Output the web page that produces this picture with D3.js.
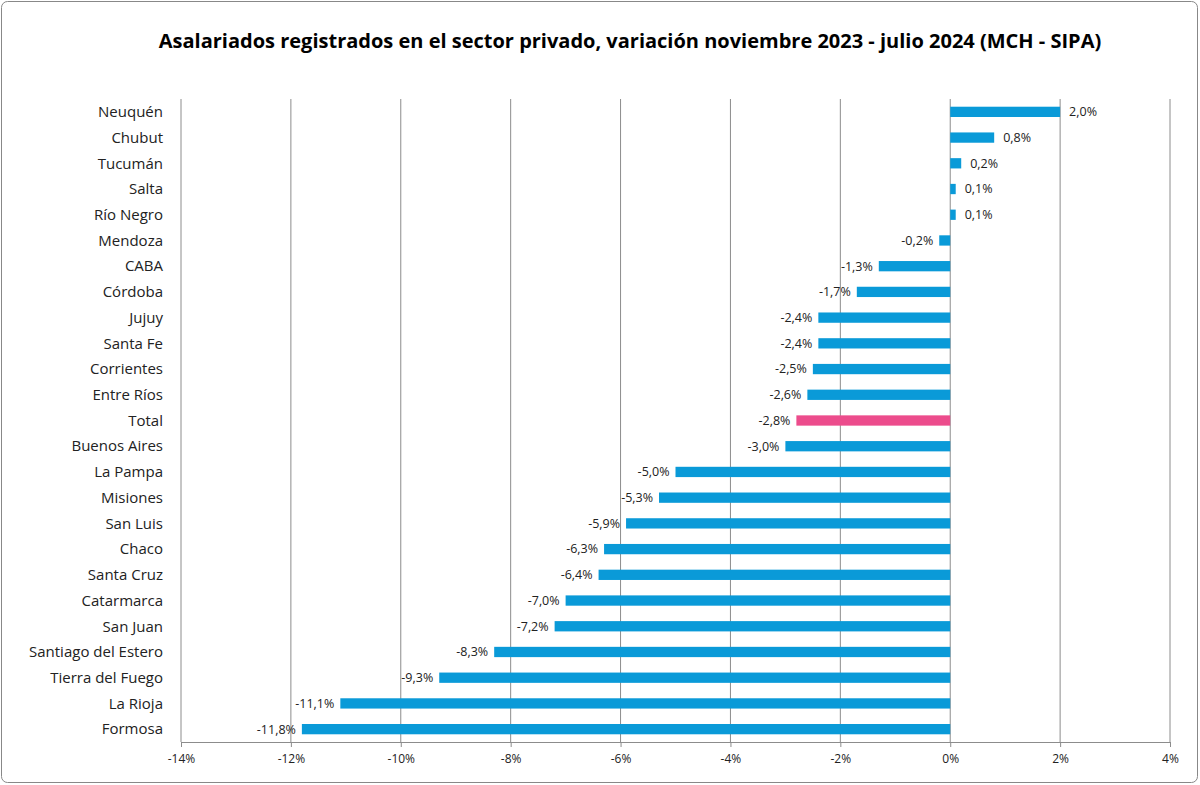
<!DOCTYPE html>
<html><head><meta charset="utf-8">
<script src="https://cdn.jsdelivr.net/npm/d3@7"></script>
<style>body{margin:0;background:#fff}svg{display:block}</style>
</head><body>
<svg id="chart" width="1200" height="785"></svg>
<script>
const provinces = ["Neuquén","Chubut","Tucumán","Salta","Río Negro","Mendoza","CABA","Córdoba","Jujuy","Santa Fe","Corrientes","Entre Ríos","Total","Buenos Aires","La Pampa","Misiones","San Luis","Chaco","Santa Cruz","Catarmarca","San Juan","Santiago del Estero","Tierra del Fuego","La Rioja","Formosa"];
const variation = [2.0,0.8,0.2,0.1,0.1,-0.2,-1.3,-1.7,-2.4,-2.4,-2.5,-2.6,-2.8,-3.0,-5.0,-5.3,-5.9,-6.3,-6.4,-7.0,-7.2,-8.3,-9.3,-11.1,-11.8];
const tickValues = [-14,-12,-10,-8,-6,-4,-2,0,2,4];

const svg = d3.select("#chart");
svg.append("rect").attr("x",1.5).attr("y",1.5).attr("width",1196).attr("height",781)
  .attr("rx",6).attr("fill","#fff").attr("stroke","#888");

svg.append("text").attr("x",630).attr("y",48).attr("text-anchor","middle")
  .attr("font-family","Open Sans, sans-serif").attr("font-weight","bold").attr("font-size",20)
  .text("Asalariados registrados en el sector privado, variación noviembre 2023 - julio 2024 (MCH - SIPA)");

const x = d3.scaleLinear().domain([-14,4]).range([181,1170]);
const y = d3.scaleBand().domain(provinces).range([99,742]).paddingInner(0.6).paddingOuter(0.3);

// grid
svg.append("g").selectAll("line").data(tickValues).join("line")
  .attr("x1",d=>x(d)).attr("x2",d=>x(d)).attr("y1",99).attr("y2",742)
  .attr("stroke","#8c8c8c").attr("stroke-width",1);

// x axis
const xa = svg.append("g").attr("transform","translate(0,742)")
  .call(d3.axisBottom(x).tickValues(tickValues).tickSize(5).tickFormat(d=>d+"%"));
xa.select(".domain").attr("stroke","#8c8c8c");
xa.selectAll(".tick line").attr("stroke","#8c8c8c");
xa.selectAll("text").attr("font-family","Open Sans, sans-serif").attr("font-size",12).attr("fill","#222").attr("dy","1.1em");

// bars
svg.append("g").selectAll("rect").data(provinces).join("rect")
  .attr("x",(d,i)=>x(Math.min(0,variation[i])))
  .attr("width",(d,i)=>Math.abs(x(variation[i])-x(0)))
  .attr("y",d=>y(d)).attr("height",y.bandwidth())
  .attr("fill",d=>d==="Total"?"#ec4c8c":"#0a9ad8");

// data labels
const fmt = v => v.toFixed(1).replace(".",",")+"%";
svg.append("g").selectAll("text").data(provinces).join("text")
  .attr("x",(d,i)=>variation[i]>=0?x(variation[i])+9:x(variation[i])-6)
  .attr("y",d=>y(d)+y.bandwidth()/2).attr("dy","0.35em")
  .attr("text-anchor",(d,i)=>variation[i]>=0?"start":"end")
  .attr("font-family","Open Sans, sans-serif").attr("font-size",12.5).attr("fill","#222")
  .text((d,i)=>fmt(variation[i]));

// category labels
svg.append("g").selectAll("text").data(provinces).join("text")
  .attr("x",163).attr("y",d=>y(d)+y.bandwidth()/2).attr("dy","0.35em")
  .attr("text-anchor","end").attr("font-family","Open Sans, sans-serif").attr("font-size",15).attr("fill","#222")
  .text(d=>d);
</script>
</body></html>
